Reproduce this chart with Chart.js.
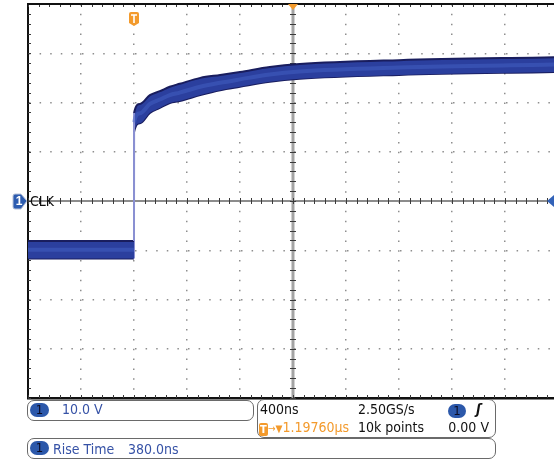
<!DOCTYPE html>
<html>
<head>
<meta charset="utf-8">
<script src="https://cdn.jsdelivr.net/npm/chart.js@4"></script>
<style>
  body { margin: 0; background: #fff; }
  #page { position: relative; width: 554px; height: 459px; overflow: hidden; font-family: "Liberation Sans Narrow", "DejaVu Sans Condensed", sans-serif; }
  #plot { position: absolute; left: 0; top: 0; width: 554px; height: 400px; }
  .box { position: absolute; border: 1px solid #6a6a6a; border-radius: 7px; box-sizing: border-box; background: #fff; }
  .t { position: absolute; font-size: 14px; line-height: 14px; white-space: nowrap; color: #111; }
  .blue { color: #3652a6; }
  .orange { color: #f39a2c; }
  .pill { position: absolute; background: #2c58aa; border-radius: 7px; color: #0b0b22; font-size: 13px; line-height: 14px; text-align: center; }
  .ticon { display: inline-block; background: #f39a2c; color: #fff; font-weight: bold; font-size: 11px; line-height: 13px; width: 9px; text-align: center; border-radius: 2px; vertical-align: -1px; }
</style>
</head>
<body>
<div id="page">
  <div id="plot"><canvas id="scope"></canvas></div>

  <div class="box" style="left:27px;top:400px;width:227px;height:21px"></div>
  <div class="box" style="left:257px;top:399px;width:239px;height:39px"></div>
  <div class="box" style="left:27px;top:438px;width:469px;height:21px"></div>

  <div class="pill" style="left:30px;top:403px;width:19px;height:14px">1</div>
  <div class="t blue" style="left:62px;top:402px">10.0 V</div>

  <div class="t" style="left:260px;top:402px">400ns</div>
  <div class="t" style="left:358px;top:402px">2.50GS/s</div>
  <div class="pill" style="left:448px;top:404px;width:18px;height:14px">1</div>
  <div class="t" style="left:476px;top:402px;font-weight:bold;font-style:italic">ʃ</div>
  <div class="t orange" style="left:259px;top:420px"><span class="ticon">T</span><span style="font-size:10px">→▼</span>1.19760µs</div>
  <div class="t" style="left:358px;top:420px">10k points</div>
  <div class="t" style="left:429px;top:420px;width:60px;text-align:right">0.00 V</div>

  <div class="pill" style="left:30px;top:441px;width:19px;height:14px">1</div>
  <div class="t blue" style="left:53px;top:442px">Rise Time</div>
  <div class="t blue" style="left:128px;top:442px">380.0ns</div>
</div>

<script>
// acquisition: 400 ns/div, 10 V/div, trigger at -1197.6 ns
const timeNs = [-2000, -1200, -1199.5, -1155, -1080, -1005, -930, -855, -700, -550, -400, -175, 50, 800, 1970];
const upperV = [-8.1, -8.1, 17.9, 19.7, 21.5, 22.3, 23.2, 23.8, 25.0, 25.6, 26.2, 27.2, 27.8, 28.6, 29.2];
const lowerV = [-11.7, -11.7, 14.0, 15.8, 17.9, 18.9, 19.9, 20.3, 21.5, 22.5, 23.2, 24.2, 24.8, 25.6, 26.2];
const centerV = [-9.9, -9.9, 16.0, 17.8, 19.7, 20.6, 21.5, 22.0, 23.2, 24.0, 24.7, 25.7, 26.3, 27.1, 27.7];
const xGridNs = [-2000, -1600, -1200, -800, -400, 0, 400, 800, 1200, 1600];
const triggerNs = -1197.6;
const channelLabel = 'CLK';

(() => {
  const ctxEl = document.getElementById('scope').getContext('2d');

  const toPoints = (vals) => timeNs.map((t, i) => ({x: t, y: vals[i]}));
  const isEdge = (c) => Math.abs(c.p1.parsed.x - c.p0.parsed.x) < 1;

  const scopeDecor = {
    id: 'scopeDecor',
    beforeDatasetsDraw(chart) {
      const {ctx, chartArea: a, scales: {x, y}} = chart;
      const x0 = x.getPixelForValue(0), y0 = Math.round(y.getPixelForValue(0));
      ctx.save();
      // center cross
      ctx.strokeStyle = '#8c8c8c';
      ctx.lineWidth = 2;
      ctx.beginPath(); ctx.moveTo(a.left, y0); ctx.lineTo(a.right, y0); ctx.stroke();
      ctx.strokeStyle = '#a3a3a3';
      ctx.lineWidth = 3;
      ctx.beginPath(); ctx.moveTo(x0, a.top); ctx.lineTo(x0, a.bottom); ctx.stroke();
      // minor ticks
      ctx.strokeStyle = '#3a3a3a';
      ctx.lineWidth = 1;
      for (let t = -2000; t <= 2000; t += 80) {
        const px = Math.round(x.getPixelForValue(t)) + 0.5;
        if (px > a.right) break;
        ctx.beginPath();
        ctx.moveTo(px, y0 - 3); ctx.lineTo(px, y0 + 3);
        ctx.moveTo(px, a.top); ctx.lineTo(px, a.top + 3);
        ctx.moveTo(px, a.bottom - 3); ctx.lineTo(px, a.bottom);
        ctx.stroke();
      }
      for (let v = -40; v <= 40; v += 2) {
        const py = Math.round(y.getPixelForValue(v)) + 0.5;
        ctx.beginPath();
        ctx.moveTo(x0 - 3, py); ctx.lineTo(x0 + 3, py);
        ctx.moveTo(a.left, py); ctx.lineTo(a.left + 3, py);
        ctx.stroke();
      }
      ctx.restore();
    },
    afterDraw(chart) {
      const {ctx, chartArea: a, scales: {x, y}} = chart;
      const x0 = x.getPixelForValue(0), y0 = Math.round(y.getPixelForValue(0));
      ctx.save();
      // top border
      ctx.strokeStyle = '#111';
      ctx.lineWidth = 2;
      ctx.beginPath(); ctx.moveTo(a.left, a.top); ctx.lineTo(a.right, a.top); ctx.stroke();

      // horizontal position marker
      ctx.fillStyle = '#f39a2c';
      ctx.beginPath();
      ctx.moveTo(x0 - 5, a.top); ctx.lineTo(x0 + 5, a.top); ctx.lineTo(x0, a.top + 6);
      ctx.closePath(); ctx.fill();

      // trigger T marker
      const tx = Math.round(x.getPixelForValue(triggerNs));
      ctx.beginPath();
      ctx.moveTo(tx - 5, 14);
      ctx.quadraticCurveTo(tx - 5, 12, tx - 3, 12);
      ctx.lineTo(tx + 3, 12);
      ctx.quadraticCurveTo(tx + 5, 12, tx + 5, 14);
      ctx.lineTo(tx + 5, 23); ctx.lineTo(tx, 26); ctx.lineTo(tx - 5, 23);
      ctx.closePath(); ctx.fill();
      ctx.strokeStyle = '#fff';
      ctx.lineWidth = 1.6;
      ctx.beginPath();
      ctx.moveTo(tx - 3, 15); ctx.lineTo(tx + 3, 15);
      ctx.moveTo(tx, 15); ctx.lineTo(tx, 23);
      ctx.stroke();

      // channel 1 ground marker
      ctx.fillStyle = '#2d5cb0';
      ctx.strokeStyle = '#b8c2d8';
      ctx.lineWidth = 1;
      ctx.beginPath();
      ctx.moveTo(15, y0 - 7); ctx.lineTo(21, y0 - 7); ctx.lineTo(27, y0);
      ctx.lineTo(21, y0 + 8); ctx.lineTo(15, y0 + 8);
      ctx.quadraticCurveTo(13, y0 + 8, 13, y0 + 6);
      ctx.lineTo(13, y0 - 5);
      ctx.quadraticCurveTo(13, y0 - 7, 15, y0 - 7);
      ctx.closePath(); ctx.fill(); ctx.stroke();
      ctx.fillStyle = '#fff';
      ctx.font = 'bold 12px "Liberation Sans Narrow", sans-serif';
      ctx.textAlign = 'center';
      ctx.textBaseline = 'middle';
      ctx.fillText('1', 19, y0 + 1);

      ctx.fillStyle = '#111';
      ctx.font = '14px "Liberation Sans Narrow", "DejaVu Sans Condensed", sans-serif';
      ctx.textAlign = 'left';
      ctx.fillText(channelLabel, 30, y0 + 1);

      // trigger level marker on the right
      ctx.fillStyle = '#3262b8';
      ctx.beginPath();
      ctx.moveTo(a.right - 7, y0); ctx.lineTo(a.right, y0 - 6); ctx.lineTo(a.right, y0 + 6);
      ctx.closePath(); ctx.fill();
      ctx.restore();
    }
  };

  new Chart(ctxEl, {
    type: 'line',
    data: {
      datasets: [
        {
          label: 'center',
          data: toPoints(centerV),
          borderColor: 'rgba(72,102,200,0.45)',
          borderWidth: 4,
          fill: false,
          pointRadius: 0,
          cubicInterpolationMode: 'monotone',
          segment: {borderColor: (c) => isEdge(c) ? 'rgba(0,0,0,0)' : undefined}
        },
        {
          label: 'upper',
          data: toPoints(upperV),
          borderColor: '#191d5e',
          borderWidth: 2,
          backgroundColor: '#2b3f9e',
          fill: '+1',
          pointRadius: 0,
          cubicInterpolationMode: 'monotone',
          segment: {borderColor: (c) => isEdge(c) ? '#8a90d2' : undefined}
        },
        {
          label: 'lower',
          data: toPoints(lowerV),
          borderColor: '#191d5e',
          borderWidth: 2,
          fill: false,
          pointRadius: 0,
          cubicInterpolationMode: 'monotone',
          segment: {borderColor: (c) => isEdge(c) ? '#8a90d2' : undefined}
        }
      ]
    },
    options: {
      responsive: true,
      maintainAspectRatio: false,
      animation: false,
      layout: {padding: {left: 28, top: 4, right: 0, bottom: 2}},
      plugins: {legend: {display: false}, tooltip: {enabled: false}},
      scales: {
        x: {
          type: 'linear',
          min: -2000,
          max: 1970,
          afterBuildTicks: (s) => { s.ticks = xGridNs.map(v => ({value: v})); },
          ticks: {display: false},
          grid: {
            drawTicks: false,
            lineWidth: 1.5,
            color: (c) => c.tick && c.tick.value === 0 ? 'rgba(0,0,0,0)' : '#8e8e8e'
          },
          border: {display: true, color: '#111', width: 2.5, dash: [1.5, 8.35]}
        },
        y: {
          min: -40,
          max: 40,
          ticks: {display: false, stepSize: 10},
          grid: {
            drawTicks: false,
            lineWidth: 1.5,
            color: (c) => c.tick && c.tick.value === 0 ? 'rgba(0,0,0,0)' : '#8e8e8e'
          },
          border: {display: true, color: '#111', width: 2, dash: [1.5, 9.1]}
        }
      }
    },
    plugins: [scopeDecor]
  });
})();
</script>
</body>
</html>
